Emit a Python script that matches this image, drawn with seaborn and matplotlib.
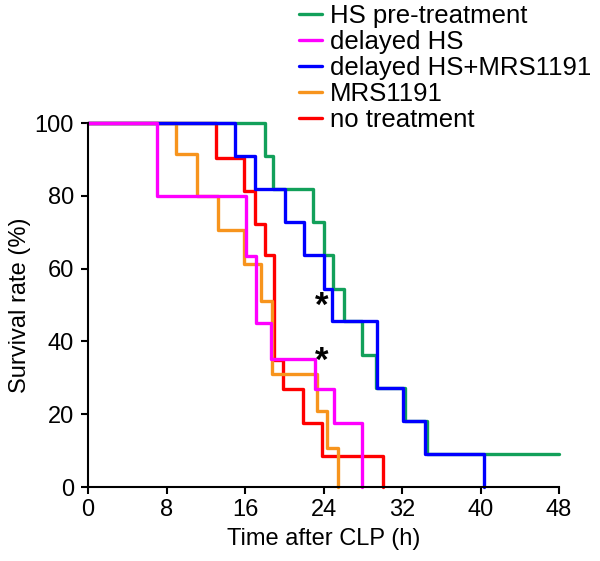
import matplotlib
matplotlib.use("Agg")
import matplotlib.pyplot as plt
import pandas as pd
import seaborn as sns

# Kaplan-Meier style step curves (time in h, survival in %)
green_t = [0, 18.0, 18.9, 22.9, 24.0, 25.0, 26.1, 27.9, 29.3, 32.3, 34.5, 48.0]
green_s = [100, 90.9, 81.8, 72.7, 63.6, 54.5, 45.5, 36.4, 27.3, 18.2, 9.1, 9.1]

magenta_t = [0, 7.0, 16.1, 17.1, 18.6, 23.1, 25.1, 27.9]
magenta_s = [100, 80.0, 63.4, 45.0, 35.3, 27.0, 17.6, 0]

blue_t = [0, 15.0, 17.0, 20.1, 22.0, 24.0, 24.9, 29.5, 32.1, 34.3, 40.4]
blue_s = [100, 90.9, 81.8, 72.7, 63.6, 54.5, 45.5, 27.3, 18.2, 9.1, 0]

orange_t = [0, 9.0, 11.1, 13.2, 15.9, 17.6, 18.8, 23.3, 24.4, 25.5]
orange_s = [100, 91.5, 80.0, 70.5, 61.4, 51.0, 31.0, 20.9, 10.8, 0]

red_t = [0, 13.0, 15.9, 17.0, 18.0, 19.0, 19.9, 21.9, 23.8, 30.1]
red_s = [100, 90.3, 81.4, 72.2, 63.6, 35.0, 27.0, 17.6, 8.5, 0]

groups = ["HS pre-treatment", "delayed HS", "delayed HS+MRS1191", "MRS1191", "no treatment"]
colors = ["#12a05a", "#ff00ff", "#0000ff", "#f7941d", "#ff0000"]
series = [(green_t, green_s), (magenta_t, magenta_s), (blue_t, blue_s),
          (orange_t, orange_s), (red_t, red_s)]

# asterisks (time, survival)
star_t = [23.8, 23.8]
star_s = [51.5, 36.4]

sns.set_style("ticks")
plt.rcParams["font.family"] = ["Liberation Sans", "DejaVu Sans"]
for k in ["text.color", "axes.labelcolor", "xtick.color", "ytick.color"]:
    plt.rcParams[k] = "black"

fig = plt.figure(figsize=(6.0, 5.61), dpi=100)
ax = fig.add_axes([88 / 600, 74 / 561, 471 / 600, 364 / 561])

# draw order so that overlaps look like the original
draw_order = [4, 3, 0, 2, 1]
for i in draw_order:
    t, s = series[i]
    df = pd.DataFrame({"t": t, "s": s})
    sns.lineplot(data=df, x="t", y="s", ax=ax, color=colors[i], lw=2.4,
                 drawstyle="steps-post", estimator=None, sort=False,
                 label=groups[i], clip_on=False)

h, l = ax.get_legend_handles_labels()
lookup = dict(zip(l, h))
ax.legend([lookup[g] for g in groups], groups, loc="upper left",
          bbox_to_anchor=(299 / 600, 1 - 4 / 561), bbox_transform=fig.transFigure,
          frameon=False, fontsize=18.5, handlelength=0.9, handletextpad=0.3,
          labelspacing=0.08, borderaxespad=0, borderpad=0)

# the glyph sits high in its box, so nudge it down a little
for x, y in zip(star_t, star_s):
    ax.text(x, y - 1.8, "*", fontsize=25, fontweight="bold", ha="center", va="center")

ax.set_xlim(0, 48)
ax.set_ylim(0, 100)
ax.set_xticks(range(0, 49, 8))
ax.set_yticks(range(0, 101, 20))
ax.set_xlabel("Time after CLP (h)", fontsize=17, labelpad=5)
ax.set_ylabel("Survival rate (%)", fontsize=17, labelpad=3)
ax.tick_params(labelsize=17, width=1.5, length=5, color="black")
ax.tick_params(axis="y", pad=5)
ax.tick_params(axis="x", pad=4)
sns.despine(ax=ax)
for sp in ["left", "bottom"]:
    ax.spines[sp].set_linewidth(1.5)
    ax.spines[sp].set_color("black")

fig.savefig("out.png", dpi=100)
